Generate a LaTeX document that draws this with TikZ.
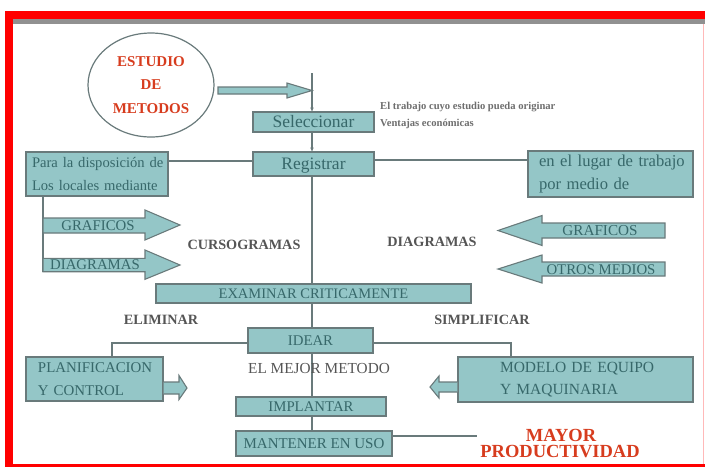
\documentclass[tikz,border=0pt]{standalone}
\usepackage{fontspec}
\setmainfont{Liberation Serif}
\usetikzlibrary{shapes.geometric,arrows.meta}
\definecolor{boxfill}{RGB}{148,198,199}
\definecolor{boxline}{RGB}{105,122,123}
\definecolor{boxtext}{RGB}{55,104,106}
\definecolor{graytext}{RGB}{85,85,85}
\definecolor{smalltext}{RGB}{110,110,110}
\definecolor{redtext}{RGB}{215,60,30}
\definecolor{framered}{RGB}{255,0,0}
\definecolor{framegray}{RGB}{145,145,145}
\definecolor{framepink}{RGB}{255,185,185}
\begin{document}
\begin{tikzpicture}[x=1pt,y=-1pt,
  tbox/.style={draw=boxline, fill=boxfill, line width=1.2pt, inner sep=0pt, text=boxtext},
  conn/.style={draw=boxline, line width=1.3pt},
  bigarrow/.style={draw=boxline, fill=boxfill, line width=1.1pt, line join=miter},
  smalltip/.style={-{Stealth[length=4pt,width=3.5pt]}},
  atext/.style={text=boxtext, inner sep=0pt, font=\fontsize{14.8}{18}\selectfont},
  lbl/.style={text=graytext, inner sep=0pt, font=\bfseries\fontsize{14.2}{18}\selectfont},
  redlbl/.style={text=redtext, inner sep=0pt, font=\bfseries\fontsize{18.5}{22}\selectfont}]
\useasboundingbox (0,0) rectangle (705,467);
% frame
\fill[framered] (5,11) rectangle (705,19);
\fill[framegray] (13,19) rectangle (705,24);
\fill[framered] (5,11) rectangle (13,467);
\fill[framered] (5,463.5) rectangle (705,467);
\fill[framepink] (702.5,24) rectangle (703.5,463.5);

% ellipse
\node[ellipse, draw=boxline, line width=1.2pt, minimum width=126pt, minimum height=104pt,
  inner sep=0pt, align=center, text=redtext, font=\bfseries\fontsize{15}{23.5}\selectfont]
  (est) at (151,85) {ESTUDIO\\DE\\METODOS};

% main boxes
\node[tbox, minimum width=121pt, minimum height=20pt, font=\fontsize{17.5}{20}\selectfont] (sel) at (313.5,122) {Seleccionar};
\node[tbox, minimum width=121pt, minimum height=24pt, text depth=0pt, font=\fontsize{17.5}{20}\selectfont] (reg) at (313.5,164) {Registrar};
\node[tbox, minimum width=315pt, minimum height=19pt, font=\fontsize{14.5}{18}\selectfont] (exam) at (313.5,293.5) {EXAMINAR CRITICAMENTE};
\node[tbox, minimum width=125pt, minimum height=25pt, font=\fontsize{14.8}{18}\selectfont] (idear) at (310.5,340.5) {IDEAR};
\node[tbox, minimum width=150pt, minimum height=19pt, font=\fontsize{14.8}{18}\selectfont] (impl) at (311,406.5) {IMPLANTAR};
\node[tbox, minimum width=156pt, minimum height=25pt, font=\fontsize{15}{18}\selectfont] (mant) at (314,443.5) {MANTENER EN USO};

% side boxes
\node[tbox, text width=142pt, minimum height=44pt, align=left, font=\fontsize{14.6}{23}\selectfont] (para) at (97,174)
  {\hspace*{6pt}Para la disposición de\\\hspace*{6pt}Los locales mediante};
\node[tbox, text width=165pt, minimum height=46pt, align=left, font=\fontsize{16.6}{23}\selectfont] (lugar) at (610.5,174)
  {\hspace*{11pt}en el lugar de trabajo\\\hspace*{11pt}por medio de};
\node[tbox, text width=137pt, minimum height=44pt, align=left, font=\fontsize{14.9}{23}\selectfont] (planif) at (94.5,379)
  {\hspace*{12pt}PLANIFICACION\\\hspace*{12pt}Y CONTROL};
\node[tbox, text width=235pt, minimum height=45pt, align=left, font=\fontsize{15.5}{22}\selectfont] (modelo) at (575.5,379.5)
  {\hspace*{42pt}MODELO DE EQUIPO\\\hspace*{42pt}Y MAQUINARIA};

% arrow from ellipse
\draw[bigarrow] (218,87) -- (287,87) -- (287,83) -- (312,90.5) -- (287,98) -- (287,94) -- (218,94) -- cycle;

% main vertical line
\coordinate (top) at (312,73);
\draw[conn, smalltip] (top) -- (top |- sel.north);
\draw[conn, smalltip] (top |- sel.south) -- (top |- reg.north);
\draw[conn] (top |- reg.south) -- (top |- exam.north);
\draw[conn] (top |- exam.south) -- (top |- idear.north);
\draw[conn] (top |- idear.south) -- (top |- impl.north);
\draw[conn] (top |- impl.south) -- (top |- mant.north);

% side connectors
\draw[conn] ([yshift=3pt]reg.west) -- ([yshift=3pt]reg.west -| para.east);
\draw[conn] ([yshift=4pt]reg.east) -- ([yshift=4pt]reg.east -| lugar.west);
\draw[conn] ([yshift=-2.5pt]idear.west) -| ([xshift=17.5pt]planif.north);
\draw[conn] ([yshift=-2.5pt]idear.east) -| ([xshift=-64.5pt]modelo.north);
\coordinate (mantend) at (477,436);
\draw[conn] (mantend -| mant.east) -- (mantend);

% left bracket and arrows
\draw[conn] (para.south -| 43,0) -- (43,272);
\draw[bigarrow] (43,218) -- (145,218) -- (145,210) -- (180,225) -- (145,240) -- (145,233) -- (43,233) -- cycle;
\draw[bigarrow] (43,258.3) -- (145,258.3) -- (145,250) -- (180,265) -- (145,279.3) -- (145,271.7) -- (43,271.7) -- cycle;
\node[atext] (lgraf) at (98,226) {GRAFICOS};
\node[atext] (ldiag) at (95,265) {DIAGRAMAS};

% right arrows
\draw[bigarrow] (665,223) -- (542,223) -- (542,215.5) -- (498,230.5) -- (542,245.5) -- (542,238) -- (665,238) -- cycle;
\draw[bigarrow] (665,262) -- (542,262) -- (542,255) -- (498,269) -- (542,283) -- (542,276) -- (665,276) -- cycle;
\node[atext, font=\fontsize{15.2}{18}\selectfont] (rgraf) at (600,231) {GRAFICOS};
\node[atext] (rotros) at (601,269.5) {OTROS MEDIOS};

% small arrows near bottom boxes
\draw[bigarrow] (planif.east |- 0,382) -- (179,382) -- (179,375.5) -- (187,388) -- (179,399.5) -- (179,394) -- (planif.east |- 0,394);
\draw[bigarrow] (modelo.west |- 0,382) -- (439,382) -- (439,376) -- (430,387) -- (439,398) -- (439,392) -- (modelo.west |- 0,392);

% labels
\node[anchor=west, inner sep=0pt, text=smalltext, font=\bfseries\fontsize{10.6}{12}\selectfont] (trab) at (380,107) {El trabajo cuyo estudio pueda originar};
\node[anchor=west, inner sep=0pt, text=smalltext, font=\bfseries\fontsize{10.6}{12}\selectfont] (vent) at (380,124) {Ventajas económicas};
\node[lbl] (curso) at (244,245) {CURSOGRAMAS};
\node[lbl] (rdiag) at (432,242) {DIAGRAMAS};
\node[lbl] (elim) at (161,320) {ELIMINAR};
\node[lbl] (simpl) at (482,320) {SIMPLIFICAR};
\node[anchor=west, inner sep=0pt, text=graytext, font=\fontsize{15.3}{18}\selectfont] (mejor) at (248,369) {EL MEJOR METODO};
\node[redlbl] (mayor) at (561,435) {MAYOR};
\node[redlbl] (prod) at (560,452) {PRODUCTIVIDAD};
\end{tikzpicture}
\end{document}
